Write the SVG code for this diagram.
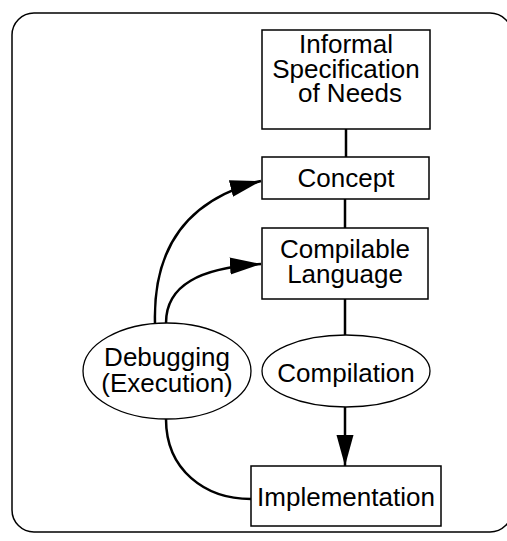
<svg xmlns="http://www.w3.org/2000/svg" width="507" height="541" viewBox="0 0 507 541">
  <style>
    .frame { fill: #fff; stroke: #000; stroke-width: 1.5; }
    .box { fill: #fff; stroke: #000; stroke-width: 1.5; }
    .oval { fill: #fff; stroke: #000; stroke-width: 1.3; }
    .label { font-family: "Liberation Sans", Arial, sans-serif; font-size: 26px; fill: #000; text-anchor: middle; }
    .link { fill: none; stroke: #000; stroke-width: 2.5; }
  </style>
  <defs>
    <marker id="head" markerUnits="userSpaceOnUse" markerWidth="32" markerHeight="20" viewBox="0 0 32 20" refX="31" refY="10" orient="auto">
      <path d="M0,1.5 L31,10 L0,18.5 Z" fill="#000"/>
    </marker>
  </defs>

  <rect class="frame" x="12" y="13" width="500" height="519" rx="22" ry="22"/>

  <g id="connectors">
    <line class="link" x1="346" y1="129" x2="346" y2="157"/>
    <line class="link" x1="345" y1="199" x2="345" y2="228"/>
    <line class="link" x1="345" y1="299" x2="345" y2="335"/>
    <path class="link" d="M345,407 L345,466" marker-end="url(#head)"/>
    <path class="link" d="M155,323 C153,250 185,200 261,181" marker-end="url(#head)"/>
    <path class="link" d="M166,323 C166,285 200,268 261,264" marker-end="url(#head)"/>
    <path class="link" d="M166,419 C166,470 205,499 251,499"/>
  </g>

  <g id="needs">
    <rect class="box" x="262" y="30" width="168" height="99"/>
    <text class="label" x="346" y="53">Informal</text>
    <text class="label" x="346" y="78">Specification</text>
    <text class="label" x="350" y="102">of Needs</text>
  </g>

  <g id="concept">
    <rect class="box" x="262" y="157" width="167" height="42"/>
    <text class="label" x="346" y="187">Concept</text>
  </g>

  <g id="language">
    <rect class="box" x="262" y="228" width="166" height="71"/>
    <text class="label" x="345" y="258">Compilable</text>
    <text class="label" x="345" y="283">Language</text>
  </g>

  <g id="compilation">
    <ellipse class="oval" cx="346" cy="371" rx="84" ry="36"/>
    <text class="label" x="346" y="382">Compilation</text>
  </g>

  <g id="debugging">
    <ellipse class="oval" cx="167" cy="371" rx="84" ry="48"/>
    <text class="label" x="167" y="366">Debugging</text>
    <text class="label" x="167" y="392">(Execution)</text>
  </g>

  <g id="implementation">
    <rect class="box" x="251" y="466" width="190" height="60"/>
    <text class="label" x="346" y="506">Implementation</text>
  </g>
</svg>
